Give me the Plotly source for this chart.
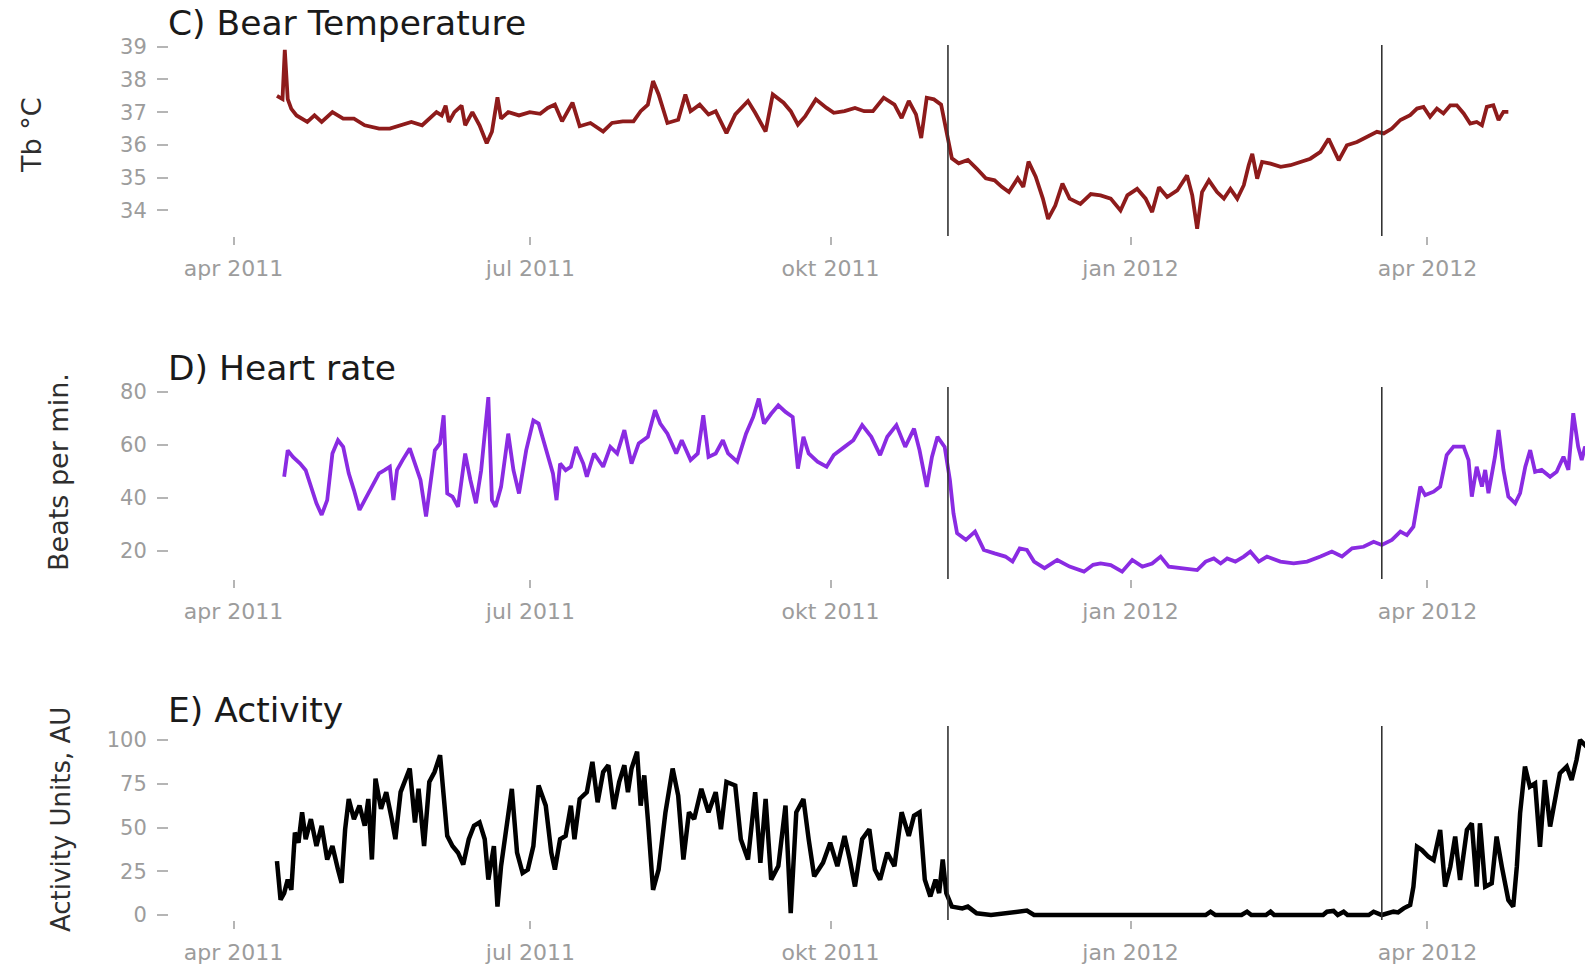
import pandas as pd
import plotly.graph_objects as go

# Day offsets are counted from this date
ORIGIN = pd.Timestamp("2011-04-01")

# C) body temperature (°C)
temp_day = [13.3, 15.0, 15.7, 16.6, 17.7, 19.3, 22.6, 24.8, 27.0, 30.3, 33.6, 36.9, 40.2, 44.6, 47.9,
            51.2, 54.5, 57.8, 60.0, 62.2, 63.8, 65.0, 66.0, 67.7, 69.9, 71.0, 73.2, 75.4, 77.6, 79.2,
            80.9, 82.0, 84.2, 87.5, 90.8, 94.0, 96.3, 98.5, 100.7, 103.9, 106.1, 109.4, 113.3, 116.0,
            119.3, 122.6, 124.8, 127.0, 128.6, 130.3, 133.0, 136.3, 138.5, 140.1, 142.9, 145.6, 147.8,
            151.1, 153.8, 157.7, 159.9, 163.1, 165.3, 168.6, 170.8, 173.0, 175.2, 178.5, 181.8, 184.0,
            187.3, 190.5, 193.3, 196.0, 199.3, 202.6, 204.8, 207.0, 209.2, 210.8, 212.5, 214.7, 216.9,
            218.5, 220.2, 222.3, 225.1, 227.8, 230.6, 233.3, 235.5, 237.7, 240.4, 242.1, 243.7, 245.9,
            248.1, 249.7, 251.9, 254.1, 256.3, 259.6, 262.8, 265.8, 268.9, 271.9, 274.0, 277.0, 279.6,
            281.6, 283.7, 286.2, 289.3, 292.3, 293.9, 295.4, 296.9, 299.0, 301.5, 303.6, 305.6, 307.7,
            309.7, 311.2, 312.3, 313.8, 315.3, 317.9, 321.0, 324.0, 327.1, 330.1, 333.2, 335.7, 338.8,
            341.3, 344.4, 347.4, 350.5, 352.6, 355.1, 357.7, 360.7, 362.8, 364.8, 366.8, 368.9, 370.9,
            373.0, 375.0, 377.1, 379.1, 381.1, 382.7, 384.2, 386.2, 387.8, 389.3, 390.8]
temp_c = [37.5, 37.4, 38.9, 37.4, 37.1, 36.9, 36.7, 36.9, 36.7, 37.0, 36.8, 36.8, 36.6, 36.5, 36.5,
          36.6, 36.7, 36.6, 36.8, 37.0, 36.9, 37.2, 36.7, 37.0, 37.2, 36.6, 37.0, 36.6, 36.05, 36.4,
          37.45, 36.8, 37.0, 36.9, 37.0, 36.95, 37.13, 37.23, 36.72, 37.29, 36.57, 36.67, 36.41, 36.67,
          36.72, 36.72, 37.03, 37.23, 37.95, 37.54, 36.67, 36.77, 37.54, 37.03, 37.23, 36.93, 37.03,
          36.36, 36.93, 37.34, 36.98, 36.41, 37.54, 37.29, 37.03, 36.62, 36.87, 37.39, 37.13, 36.98,
          37.03, 37.13, 37.03, 37.03, 37.44, 37.23, 36.82, 37.34, 36.93, 36.21, 37.44, 37.39, 37.23,
          36.41, 35.59, 35.44, 35.54, 35.28, 34.98, 34.92, 34.72, 34.56, 34.98, 34.72, 35.49, 35.03,
          34.36, 33.74, 34.15, 34.82, 34.36, 34.2, 34.5, 34.46, 34.36, 34.0, 34.46, 34.66, 34.36,
          33.95, 34.71, 34.41, 34.61, 35.07, 34.46, 33.44, 34.56, 34.92, 34.56, 34.36, 34.66, 34.36,
          34.77, 35.38, 35.73, 34.97, 35.48, 35.43, 35.33, 35.38, 35.48, 35.58, 35.79, 36.19, 35.53,
          35.99, 36.09, 36.24, 36.40, 36.35, 36.5, 36.76, 36.91, 37.11, 37.16, 36.86, 37.11, 36.96,
          37.21, 37.21, 36.96, 36.65, 36.70, 36.6, 37.16, 37.21, 36.76, 37.01, 37.01]

# D) heart rate (beats per minute)
hr_day = [15.5, 16.6, 18.2, 20.4, 22.1, 23.7, 25.4, 27.0, 28.7, 30.3, 32.0, 33.6, 35.3, 36.9, 38.6,
          40.2, 42.4, 44.6, 46.3, 47.9, 49.0, 50.1, 51.8, 54.0, 55.6, 57.3, 59.0, 60.0, 61.7, 63.3,
          64.4, 65.5, 67.1, 68.8, 71.0, 72.6, 74.3, 75.9, 78.1, 79.2, 80.3, 82.0, 84.2, 85.8, 87.5,
          89.7, 91.9, 93.5, 94.1, 96.3, 97.9, 99.0, 100.1, 101.8, 103.4, 105.0, 107.2, 108.3, 110.5,
          113.3, 115.5, 117.6, 119.8, 122.0, 124.2, 127.0, 129.2, 130.8, 133.0, 135.7, 137.4, 140.1,
          142.3, 144.0, 145.6, 147.8, 150.0, 151.6, 154.4, 157.1, 159.3, 161.0, 162.6, 164.8, 167.0,
          169.2, 171.4, 173.0, 174.7, 176.3, 179.0, 181.8, 184.0, 187.3, 190.0, 192.7, 195.5, 198.2,
          200.4, 203.2, 205.9, 208.6, 210.3, 212.5, 214.1, 215.8, 218.0, 219.6, 220.7, 221.8, 224.5,
          227.3, 230.0, 233.3, 236.6, 238.8, 241.0, 243.2, 245.4, 248.6, 252.5, 256.3, 260.7, 263.5,
          265.8, 268.9, 272.4, 275.5, 278.6, 281.6, 284.2, 286.7, 290.3, 295.4, 298.0, 300.5, 302.6,
          304.6, 307.1, 309.7, 311.7, 314.3, 316.8, 320.9, 325.0, 329.1, 333.2, 336.7, 339.8, 342.9,
          346.4, 349.5, 352.0, 355.1, 357.7, 359.7, 361.7, 363.8, 365.3, 367.9, 369.9, 371.9, 374.0,
          377.1, 378.6, 379.6, 381.1, 382.7, 383.7, 384.7, 386.7, 387.8, 389.3, 390.8, 392.9, 394.4,
          396.0, 397.5, 399.0, 401.0, 403.6, 405.6, 407.7, 409.2, 410.7, 412.2, 413.3, 414.3, 415.5]
hr_bpm = [48, 58, 55.5, 53, 50.5, 44.2, 38, 33.6, 39.2, 56.8, 61.8, 59.3, 49.3, 43, 35.5,
          39.2, 44.2, 49.3, 50.5, 51.8, 39.2, 50.5, 54.3, 58.7, 53, 46.8, 33, 41.7, 58, 60.6,
          71.2, 41.7, 40.5, 36.7, 56.8, 46.8, 38, 50.5, 78.1, 39.2, 36.7, 44.2, 64.3, 50.5, 41.7,
          58, 69.3, 68.1, 65.6, 56.8, 49.3, 39.2, 53, 50.5, 51.8, 59.3, 53, 48, 56.8,
          51.8, 59.3, 56.8, 65.6, 53, 60.6, 63.1, 73.1, 68.1, 64.3, 56.8, 61.8, 54.3,
          56.8, 71.2, 55.5, 56.8, 61.8, 56.8, 53.7, 64.3, 70.6, 77.5, 68.1, 71.8, 75,
          72.5, 70.6, 51.1, 63.1, 56.8, 53.7, 51.8, 56.2, 59.3, 61.8, 67.5, 63.1, 56.2,
          63.1, 67.5, 59.3, 66.2, 58, 44.2, 55.5, 63.1, 59.3, 46.8, 34.2, 26.7, 24.2,
          27.3, 20.4, 19.1, 17.9, 16, 21, 20.4, 16, 13.5, 16.6, 14.1, 12.2, 14.8,
          15.3, 14.7, 12.2, 16.6, 14.1, 15.3, 17.9, 14.1, 13.5, 12.8, 16, 17.2, 15.3,
          17.2, 16, 17.9, 19.8, 16, 17.9, 16, 15.3, 16, 17.9, 19.8, 17.9, 21,
          21.6, 23.5, 22.3, 24.2, 27.3, 26, 29.2, 44.3, 41.1, 42.4, 44.3, 56.2, 59.4,
          59.4, 54.3, 40.5, 51.8, 44.3, 50.6, 41.8, 55.6, 65.7, 50.6, 40.5, 38, 41.8,
          51.8, 58.1, 49.9, 50.6, 48, 49.9, 55.6, 50.6, 72, 59.4, 54.3, 59.4, 56]

# E) activity (arbitrary units)
act_day = [13.3, 14.4, 15.5, 16.6, 17.7, 18.8, 19.9, 21.0, 22.1, 23.7, 25.4, 27.0, 28.7, 30.3, 32.0,
           33.1, 34.2, 35.3, 36.9, 38.6, 40.2, 41.3, 42.4, 43.5, 45.2, 46.8, 48.5, 49.6, 51.2, 52.9,
           54.0, 55.6, 56.7, 58.4, 60.0, 61.6, 63.3, 64.4, 65.5, 67.1, 68.8, 70.4, 72.1, 73.7, 75.4,
           77.0, 78.1, 79.8, 80.9, 82.0, 83.6, 85.3, 86.9, 88.6, 90.2, 91.9, 93.5, 95.7, 97.4, 98.5,
           100.1, 101.8, 103.4, 104.5, 106.1, 108.3, 110.0, 111.6, 113.3, 114.9, 116.6, 118.2, 119.8,
           120.9, 122.0, 123.7, 124.8, 125.9, 127.0, 128.6, 130.3, 132.4, 134.6, 136.3, 137.9, 139.6,
           141.2, 143.4, 145.6, 147.8, 149.4, 151.1, 153.8, 155.5, 157.7, 159.9, 161.5, 163.1, 164.8,
           167.0, 169.2, 170.8, 172.5, 174.7, 176.3, 178.0, 180.7, 182.9, 185.1, 187.3, 188.9, 190.5,
           192.7, 194.9, 196.6, 198.2, 200.4, 202.6, 204.8, 207.0, 208.6, 210.3, 211.9, 213.6, 215.2,
           216.3, 217.4, 218.5, 220.2, 223.4, 225.1, 227.8, 232.2, 239.9, 243.2, 245.4, 298.0, 299.5,
           301.0, 309.0, 310.7, 312.0, 316.5, 317.9, 319.0, 334.0, 335.2, 337.2, 338.5, 340.3, 341.5,
           348.0, 349.5, 352.0, 355.6, 357.0, 358.7, 360.7, 361.7, 362.8, 364.3, 366.3, 367.9, 369.9,
           371.4, 373.0, 374.5, 376.0, 378.1, 379.6, 381.1, 382.1, 383.7, 385.7, 387.2, 388.8, 390.8,
           392.3, 393.4, 394.4, 395.9, 397.4, 399.0, 400.5, 402.0, 403.6, 405.1, 406.6, 408.7, 410.2,
           411.7, 412.8, 414.3, 415.5]
act_au = [30.8, 8.7, 12.5, 20.2, 14.4, 47.1, 41.3, 58.7, 43.3, 54.8, 39.4, 51, 31.7, 39.4, 26,
          18.3, 49, 66.3, 54.8, 62.5, 51, 66.3, 31.7, 77.9, 60.6, 70.2, 54.8, 43.3, 70.2, 77.9,
          83.7, 52.9, 72.1, 39.4, 76, 81.7, 91.3, 68.3, 45.2, 39.4, 35.6, 28.8, 43.3, 51, 52.9,
          43.3, 20.2, 39.4, 4.8, 27.9, 49, 72.1, 35.6, 24, 26, 39.4, 74, 62.5, 35.6, 26,
          43.3, 45.2, 62.5, 43.3, 66.3, 70.2, 87.5, 64.4, 81.7, 85.6, 60.6, 76, 85.6,
          70.2, 83.7, 93.3, 62.5, 79.8, 54.8, 14.4, 26, 58.7, 83.7, 68.3, 31.7, 58.7,
          54.8, 72.1, 58.7, 70.2, 49, 76, 74, 43.3, 31.7, 70.2, 29.8, 66.3, 20.2,
          27.9, 62.5, 1, 58.7, 66.3, 43.3, 22.1, 29.8, 41.3, 27.9, 45.2, 31.7, 16.3,
          43.3, 49, 26, 20.2, 35.6, 27.9, 58.7, 45.2, 56.7, 58.7, 20.2, 10.6, 20.2,
          12.5, 31.7, 12.5, 4.8, 3.8, 4.8, 1, 0, 1.9, 2.5, 0, 0, 1.9,
          0, 0, 1.9, 0, 0, 1.9, 0, 0, 1.9, 2.3, 0, 1.9, 0,
          0, 1.9, 0, 1.9, 1.5, 3.8, 5.7, 16.2, 39, 37.1, 33.3, 31.4, 48.6,
          16.2, 27.6, 44.8, 20, 48.6, 52.4, 16.2, 52.4, 16.2, 18.1, 44.8, 27.6, 8.6,
          4.8, 27.6, 58.1, 84.8, 73.3, 75.2, 39, 77.1, 50.5, 65.7, 81, 84.8, 77.1,
          88.6, 100, 97.1, 99]

# Den entry and den exit
den_dates = ["2011-11-06", "2012-03-18"]

tick_dates = ["2011-04-01", "2011-07-01", "2011-10-01", "2012-01-01", "2012-04-01"]
tick_text = ["apr 2011", "jul 2011", "okt 2011", "jan 2012", "apr 2012"]
temp_ticks = [34, 35, 36, 37, 38, 39]
hr_ticks = [20, 40, 60, 80]
act_ticks = [0, 25, 50, 75, 100]

panel_titles = ["C) Bear Temperature", "D) Heart rate", "E) Activity"]
y_titles = ["Tb °C", "Beats per min.", "Activity Units, AU"]


def to_dates(days):
    return ORIGIN + pd.to_timedelta(days, unit="D")


W, H = 1585, 967
LEFT = 169
FONT = "DejaVu Sans, Verdana, sans-serif"
TICK_GREY = "#9c9c9c"

# pixel extents (top, bottom) of each panel
panel_px = [(45, 236), (387, 579), (726, 920)]
y_ranges = [[33.22, 39.05], [9.43, 81.9], [-2.86, 108.0]]
y_ticks = [temp_ticks, hr_ticks, act_ticks]

series = [
    (temp_day, temp_c, "#8e1b1b", 3.8),
    (hr_day, hr_bpm, "#8a2be2", 3.8),
    (act_day, act_au, "#000000", 4.5),
]

x_lo = (ORIGIN + pd.Timedelta(days=-19.8)).strftime("%Y-%m-%d %H:%M")
x_hi = (ORIGIN + pd.Timedelta(days=414.3)).strftime("%Y-%m-%d %H:%M")

fig = go.Figure()
layout = dict(
    width=W, height=H,
    margin=dict(l=LEFT, r=0, t=0, b=0, autoexpand=False),
    paper_bgcolor="white", plot_bgcolor="white",
    showlegend=False,
    font=dict(family=FONT),
)

shapes = []
annotations = []
for i, (days, vals, color, lw) in enumerate(series):
    n = "" if i == 0 else str(i + 1)
    fig.add_trace(go.Scatter(
        x=to_dates(days), y=vals, mode="lines",
        line=dict(color=color, width=lw, shape="linear"),
        xaxis="x" + n, yaxis="y" + n, hoverinfo="skip",
    ))
    top, bot = panel_px[i]
    dom = [1 - bot / H, 1 - top / H]
    layout["xaxis" + n] = dict(
        domain=[0, 1], anchor="y" + n, type="date", range=[x_lo, x_hi],
        tickvals=tick_dates, ticktext=tick_text,
        ticks="outside", ticklen=8, tickwidth=1.5, tickcolor="#b5b5b5",
        tickfont=dict(size=22, color=TICK_GREY, family=FONT),
        ticklabelstandoff=5, automargin=False,
        showgrid=False, zeroline=False, showline=False,
    )
    layout["yaxis" + n] = dict(
        domain=dom, anchor="x" + n, range=y_ranges[i],
        tickvals=y_ticks[i], ticks="outside", ticklen=11, tickwidth=1.5,
        tickcolor="#b5b5b5",
        tickfont=dict(size=21, color=TICK_GREY, family=FONT),
        ticklabelstandoff=6, automargin=False,
        showgrid=False, zeroline=False, showline=False,
    )
    for d in den_dates:
        shapes.append(dict(
            type="line", xref="x" + n, yref="y" + n + " domain",
            x0=d, x1=d, y0=0, y1=1,
            line=dict(color="#333333", width=1.6),
        ))

title_px = [23, 368, 710]
ytitle_px = [(32, 135), (58, 472), (61, 820)]
ytitle_size = [27, 27, 26]
for i in range(3):
    annotations.append(dict(
        text=panel_titles[i], xref="paper", yref="paper",
        x=(166 - LEFT) / (W - LEFT), y=1 - title_px[i] / H,
        xanchor="left", yanchor="middle", showarrow=False,
        font=dict(size=34.5, color="#1a1a1a", family=FONT),
    ))
    px, py = ytitle_px[i]
    annotations.append(dict(
        text=y_titles[i], xref="paper", yref="paper",
        x=(px - LEFT) / (W - LEFT), y=1 - py / H,
        xanchor="center", yanchor="middle", textangle=-90, showarrow=False,
        font=dict(size=ytitle_size[i], color="#2e2e2e", family=FONT),
    ))

layout["shapes"] = shapes
layout["annotations"] = annotations
fig.update_layout(**layout)
fig.write_html("out.html")
